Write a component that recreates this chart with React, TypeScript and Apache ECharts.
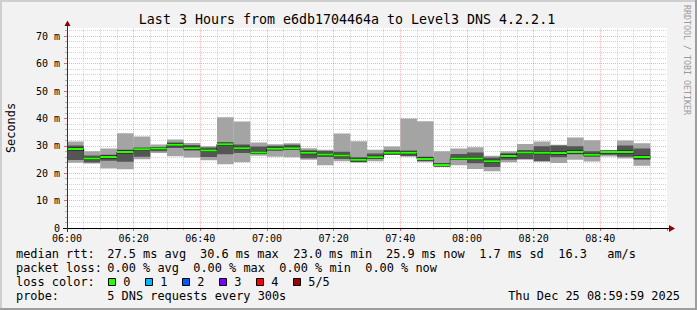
import React, { useEffect, useRef } from "react";
import * as echarts from "echarts";

// ---- data ----
const stepTimes = [
  "06:00", "06:05", "06:10", "06:15", "06:20", "06:25", "06:30", "06:35", "06:40", "06:45",
  "06:50", "06:55", "07:00", "07:05", "07:10", "07:15", "07:20", "07:25", "07:30", "07:35",
  "07:40", "07:45", "07:50", "07:55", "08:00", "08:05", "08:10", "08:15", "08:20", "08:25",
  "08:30", "08:35", "08:40", "08:45", "08:50",
];
const stepEnds = [
  "06:05", "06:10", "06:15", "06:20", "06:25", "06:30", "06:35", "06:40", "06:45", "06:50",
  "06:55", "07:00", "07:05", "07:10", "07:15", "07:20", "07:25", "07:30", "07:35", "07:40",
  "07:45", "07:50", "07:55", "08:00", "08:05", "08:10", "08:15", "08:20", "08:25", "08:30",
  "08:35", "08:40", "08:45", "08:50", "08:55",
];
// ms
const rttMax = [31.6, 28.0, 29.0, 34.6, 33.4, 30.5, 32.3, 31.0, 29.8, 40.4, 38.9, 31.2, 30.6, 30.9, 29.1, 28.6, 34.5, 31.7, 28.6, 29.7, 40.0, 39.0, 28.0, 29.0, 29.5, 26.4, 28.0, 30.7, 31.6, 30.4, 33.0, 32.0, 28.4, 31.9, 30.9];
const rttP4 = [30.1, 26.5, 26.7, 28.6, 29.2, 29.4, 31.2, 30.3, 29.4, 31.3, 30.5, 29.7, 30.0, 30.4, 28.4, 28.1, 27.8, 25.8, 27.2, 28.5, 28.3, 26.0, 23.5, 27.0, 27.6, 25.7, 27.3, 28.5, 29.8, 30.1, 29.8, 28.0, 28.1, 30.1, 29.0];
const rttMedian = [28.8, 25.4, 25.9, 27.7, 28.7, 29.0, 30.4, 29.1, 28.3, 30.6, 29.1, 27.6, 28.9, 29.1, 27.5, 26.8, 26.5, 24.9, 25.8, 27.5, 27.5, 25.2, 23.0, 25.4, 25.4, 24.4, 26.3, 27.6, 27.5, 27.4, 27.7, 26.7, 27.7, 27.7, 25.9];
const rttP2 = [24.8, 23.9, 24.5, 24.2, 26.0, 28.0, 29.2, 28.3, 25.9, 26.9, 27.4, 27.0, 28.3, 28.8, 25.5, 25.9, 25.2, 24.1, 25.3, 26.7, 26.3, 24.6, 22.5, 24.8, 23.6, 22.3, 24.9, 25.2, 24.4, 25.8, 26.9, 26.1, 26.7, 26.0, 24.9];
const rttMin = [23.8, 23.5, 21.7, 21.4, 25.1, 27.4, 26.2, 25.7, 24.7, 23.3, 24.0, 26.4, 26.0, 25.8, 24.9, 22.9, 24.4, 23.8, 24.4, 26.6, 26.0, 24.0, 22.4, 22.9, 21.5, 20.7, 24.0, 24.9, 24.3, 23.7, 24.9, 24.3, 26.1, 25.4, 22.7];

const xTickLabels = ["06:00", "06:20", "06:40", "07:00", "07:20", "07:40", "08:00", "08:20", "08:40", "09:00"];

const titleText = "Last 3 Hours from e6db1704464a to Level3 DNS 4.2.2.1";
const yAxisName = "Seconds";
const watermark = "RRDTOOL / TOBI OETIKER";
const rttRow = ["median rtt:", "27.5 ms avg", "30.6 ms max", "23.0 ms min", "25.9 ms now", "1.7 ms sd", "16.3", "am/s"];
const lossRow = ["packet loss:", "0.00 % avg", "0.00 % max", "0.00 % min", "0.00 % now"];
const lossLabels = ["0", "1", "2", "3", "4", "5/5"];
const lossColors = ["#26ff00", "#00b8ff", "#0059ff", "#7e00ff", "#ff0000", "#a10000"];
const probeRow = ["probe:", "5 DNS requests every 300s"];
const dateText = "Thu Dec 25 08:59:59 2025";

// ---- layout ----
const FONT = '"DejaVu Sans Mono", monospace';
const BG = "#f2f2f2";
const rttCols = [16, 107.3, 200, 293.3, 386, 479.3, 558.3, 607.3];
const lossCols = [16, 107.3, 193.3, 279.3, 365.3];
const swatchX = [108, 145, 182, 219, 256, 293];

const toMin = (t: string) => {
  const [h, m] = t.split(":").map(Number);
  return (h - 6) * 60 + m;
};

export default function App() {
  const ref = useRef<HTMLDivElement>(null);
  useEffect(() => {
    if (!ref.current) return;
    const chart = echarts.init(ref.current, undefined, { renderer: "svg" });

    const data = stepTimes.map((t, i) => [
      toMin(t),
      toMin(stepEnds[i]),
      rttMin[i],
      rttP2[i],
      rttMedian[i],
      rttP4[i],
      rttMax[i],
      i < stepTimes.length - 1 ? rttMedian[i + 1] : rttMedian[i],
      i < stepTimes.length - 1 ? 1 : 0,
    ]);

    const legendText = (text: string, x: number, y: number, align = "left") => ({
      type: "text",
      z: 60,
      x,
      y,
      style: { text, font: `11.9px ${FONT}`, fill: "#000", align, verticalAlign: "middle" },
    });

    const graphics: any[] = [
      // cover above the plot area
      { type: "rect", z: 50, shape: { x: 0, y: 0, width: 697, height: 28 }, style: { fill: BG } },
      // axes
      { type: "line", z: 55, shape: { x1: 63, y1: 228.5, x2: 670, y2: 228.5 }, style: { stroke: "#000", lineWidth: 1 } },
      { type: "polygon", z: 55, shape: { points: [[669, 225], [675, 228.5], [669, 232]] }, style: { fill: "#8b0000" } },
      { type: "line", z: 55, shape: { x1: 67.5, y1: 232, x2: 67.5, y2: 25 }, style: { stroke: "#333", lineWidth: 1 } },
      { type: "polygon", z: 55, shape: { points: [[64.5, 26], [67.5, 20.5], [70.5, 26]] }, style: { fill: "#8b0000" } },
      // title
      { type: "text", z: 60, x: 347, y: 19, style: { text: titleText, font: `13.3px ${FONT}`, fill: "#000", align: "center", verticalAlign: "middle" } },
      // y axis name
      { type: "text", z: 60, x: 11, y: 128, rotation: Math.PI / 2, style: { text: yAxisName, font: `11.9px ${FONT}`, fill: "#000", align: "center", verticalAlign: "middle" } },
      // watermark
      { type: "text", z: 60, x: 687, y: 60, rotation: -Math.PI / 2, style: { text: watermark, font: `8.3px ${FONT}`, fill: "#9a9a9a", align: "center", verticalAlign: "middle" } },
      // frame
      { type: "rect", z: 100, shape: { x: 0, y: 0, width: 697, height: 2 }, style: { fill: "#cfcfcf" } },
      { type: "rect", z: 100, shape: { x: 0, y: 0, width: 2, height: 310 }, style: { fill: "#cfcfcf" } },
      { type: "rect", z: 101, shape: { x: 0, y: 308, width: 697, height: 2 }, style: { fill: "#9e9e9e" } },
      { type: "rect", z: 101, shape: { x: 695, y: 0, width: 2, height: 310 }, style: { fill: "#9e9e9e" } },
    ];
    rttRow.forEach((t, i) => graphics.push(legendText(t, rttCols[i], 254.3)));
    lossRow.forEach((t, i) => graphics.push(legendText(t, lossCols[i], 268.3)));
    graphics.push(legendText("loss color:", 16, 282));
    lossLabels.forEach((t, i) => {
      graphics.push({
        type: "rect",
        z: 60,
        shape: { x: swatchX[i] + 0.5, y: 278.5, width: 7, height: 7 },
        style: { fill: lossColors[i], stroke: "#000", lineWidth: 1 },
      });
      graphics.push(legendText(t, swatchX[i] + 15.3, 282));
    });
    graphics.push(legendText(probeRow[0], 16, 296));
    graphics.push(legendText(probeRow[1], 107.3, 296));
    graphics.push(legendText(dateText, 680, 296, "right"));

    const majorColor = "rgba(255,0,0,0.32)";
    const minorColor = "#d2d2d2";

    chart.setOption({
      animation: false,
      backgroundColor: BG,
      grid: {
        left: 67,
        top: 228 - 80 * 2.74,
        width: 600,
        height: 80 * 2.74,
        show: true,
        backgroundColor: "#ffffff",
        borderWidth: 0,
      },
      xAxis: {
        type: "value",
        min: 0,
        max: 180,
        interval: 20,
        axisLine: { show: false },
        axisTick: { show: true, length: 3, lineStyle: { color: "rgba(255,0,0,0.6)" } },
        minorTick: { show: true, splitNumber: 4, length: 2, lineStyle: { color: "#b0b0b0" } },
        splitLine: { show: true, showMaxLine: false, lineStyle: { color: majorColor, type: [1, 1], width: 1 } },
        minorSplitLine: { show: true, lineStyle: { color: minorColor, type: [1, 1], width: 1 } },
        axisLabel: {
          margin: 5,
          fontFamily: FONT,
          fontSize: 10,
          color: "#000",
          showMaxLabel: false,
          formatter: (v: number) => (v < 180 ? xTickLabels[Math.round(v / 20)] : ""),
        },
      },
      yAxis: {
        type: "value",
        min: 0,
        max: 80,
        interval: 10,
        axisLine: { show: false },
        axisTick: { show: true, length: 3, lineStyle: { color: "rgba(255,0,0,0.6)" } },
        minorTick: { show: true, splitNumber: 5, length: 2, lineStyle: { color: "#b0b0b0" } },
        splitLine: { show: true, lineStyle: { color: majorColor, type: [1, 1], width: 1 } },
        minorSplitLine: { show: true, lineStyle: { color: minorColor, type: [1, 1], width: 1 } },
        axisLabel: {
          margin: 7,
          fontFamily: FONT,
          fontSize: 10,
          color: "#000",
          formatter: (v: number) => (v === 0 ? "0" : `${v} m`),
        },
      },
      series: [
        {
          type: "custom",
          data,
          clip: true,
          renderItem: (params: any, api: any) => {
            const x0 = api.coord([api.value(0), 0])[0];
            const x1 = api.coord([api.value(1), 0])[0];
            const y = (k: number) => api.coord([0, api.value(k)])[1];
            const children: any[] = [
              { type: "rect", shape: { x: x0, y: y(6), width: x1 - x0, height: y(2) - y(6) }, style: { fill: "#a4a4a4" } },
              { type: "rect", shape: { x: x0, y: y(5), width: x1 - x0, height: y(3) - y(5) }, style: { fill: "#555555" } },
              { type: "rect", shape: { x: x0, y: y(4) - 1.5, width: x1 - x0, height: 3 }, style: { fill: "#1a1a1a" } },
              { type: "rect", shape: { x: x0, y: y(4) - 1, width: x1 - x0, height: 2 }, style: { fill: "#26ff00" } },
            ];
            if (api.value(8) === 1) {
              children.push({
                type: "line",
                shape: { x1: x1, y1: y(4), x2: x1, y2: y(7) },
                style: { stroke: "#111", lineWidth: 1 },
              });
            }
            return { type: "group", children };
          },
        },
      ],
      graphic: { elements: graphics },
    });
    return () => chart.dispose();
  }, []);

  return (
    <div
      ref={ref}
      style={{ position: "fixed", left: 0, top: 0, width: 697, height: 310 }}
    />
  );
}
